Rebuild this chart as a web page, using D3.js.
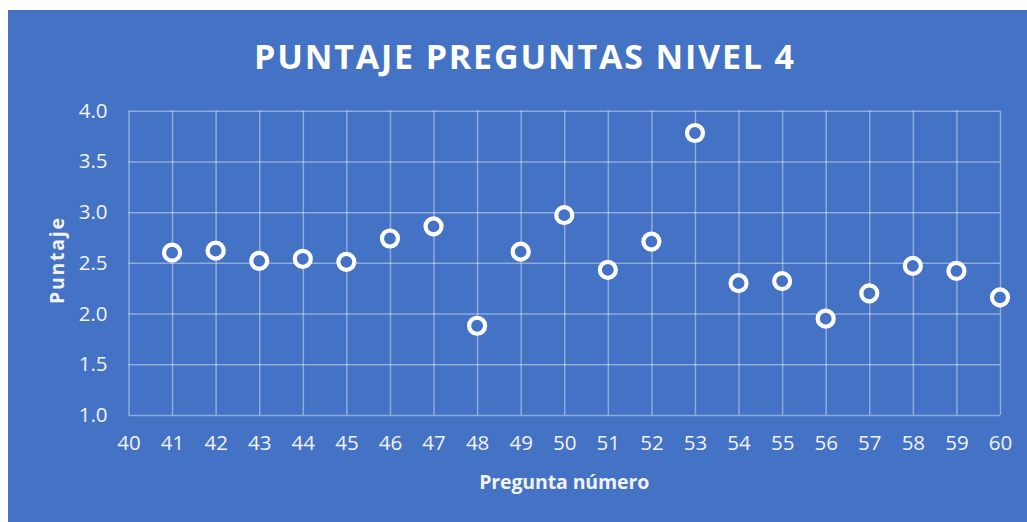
<!DOCTYPE html>
<html>
<head>
<meta charset="utf-8">
<script src="https://cdn.jsdelivr.net/npm/d3@7"></script>
<style>
  html, body { margin: 0; padding: 0; background: #ffffff; }
  svg { display: block; }
  text { font-family: "Open Sans", "DejaVu Sans", sans-serif; }
</style>
</head>
<body>
<svg id="chart" width="1027" height="522"></svg>
<script>
// Question numbers and their average score
const preguntas = [41, 42, 43, 44, 45, 46, 47, 48, 49, 50, 51, 52, 53, 54, 55, 56, 57, 58, 59, 60];
const puntajes  = [2.60, 2.62, 2.52, 2.54, 2.51, 2.74, 2.86, 1.88, 2.61, 2.97, 2.43, 2.71, 3.78, 2.30, 2.32, 1.95, 2.20, 2.47, 2.42, 2.16];
const xTicks = d3.range(40, 61, 1);
const yTicks = [1.0, 1.5, 2.0, 2.5, 3.0, 3.5, 4.0];

const titulo = "PUNTAJE PREGUNTAS NIVEL 4";
const tituloX = "Pregunta número";
const tituloY = "Puntaje";

const svg = d3.select("#chart");
const W = 1027, H = 522;
const azul = "#4472C4";
const texto = "#f2f2f2";
const rejilla = "rgba(255,255,255,0.4)";

// chart panel
svg.append("rect")
  .attr("x", 8).attr("y", 10)
  .attr("width", W - 8).attr("height", H - 10)
  .attr("fill", azul);

const plot = { left: 128.5, right: 1000, top: 110.7, bottom: 415 };

const x = d3.scaleLinear().domain([40, 60]).range([plot.left, plot.right]);
const y = d3.scaleLinear().domain([1, 4]).range([plot.bottom, plot.top]);

// gridlines
const g = svg.append("g");
g.append("g")
  .attr("transform", `translate(0,${plot.bottom})`)
  .call(d3.axisBottom(x).tickValues(xTicks).tickSize(-(plot.bottom - plot.top)).tickFormat(""))
  .call(a => a.select(".domain").remove())
  .call(a => a.selectAll("line").attr("stroke", rejilla).attr("stroke-width", 1.5));
g.append("g")
  .attr("transform", `translate(${plot.left},0)`)
  .call(d3.axisLeft(y).tickValues(yTicks).tickSize(-(plot.right - plot.left)).tickFormat(""))
  .call(a => a.select(".domain").remove())
  .call(a => a.selectAll("line").attr("stroke", rejilla).attr("stroke-width", 1.5));

// tick labels
const yAxis = svg.append("g")
  .attr("transform", `translate(${plot.left},0)`)
  .call(d3.axisLeft(y).tickValues(yTicks).tickSize(0).tickPadding(21).tickFormat(d3.format(".1f")));
yAxis.select(".domain").remove();
yAxis.selectAll("text")
  .attr("fill", texto).attr("font-size", 20.5)
  .attr("font-family", "'Open Sans', sans-serif");

const xAxis = svg.append("g")
  .attr("transform", `translate(0,${plot.bottom})`)
  .call(d3.axisBottom(x).tickValues(xTicks).tickSize(0).tickPadding(20).tickFormat(d3.format("d")));
xAxis.select(".domain").remove();
xAxis.selectAll("text")
  .attr("fill", texto).attr("font-size", 20.5)
  .attr("font-family", "'Open Sans', sans-serif");

// points
svg.append("g")
  .selectAll("circle")
  .data(preguntas.map((p, i) => ({ p, v: puntajes[i] })))
  .join("circle")
  .attr("cx", d => x(d.p))
  .attr("cy", d => y(d.v))
  .attr("r", 8)
  .attr("fill", azul)
  .attr("stroke", "#ffffff")
  .attr("stroke-width", 4.2);

// titles
svg.append("text")
  .attr("x", 524).attr("y", 69)
  .attr("text-anchor", "middle")
  .attr("fill", "#ffffff")
  .attr("font-size", 34)
  .attr("font-weight", 700)
  .attr("textLength", 540)
  .attr("lengthAdjust", "spacing")
  .text(titulo);

svg.append("text")
  .attr("x", (plot.left + plot.right) / 2).attr("y", 489)
  .attr("text-anchor", "middle")
  .attr("fill", texto)
  .attr("font-size", 19.5)
  .attr("font-weight", 700)
  .attr("textLength", 170)
  .attr("lengthAdjust", "spacing")
  .text(tituloX);

svg.append("text")
  .attr("transform", `translate(64,261) rotate(-90)`)
  .attr("text-anchor", "middle")
  .attr("fill", texto)
  .attr("font-size", 19.5)
  .attr("font-weight", 700)
  .attr("textLength", 86)
  .attr("lengthAdjust", "spacing")
  .text(tituloY);
</script>
</body>
</html>
